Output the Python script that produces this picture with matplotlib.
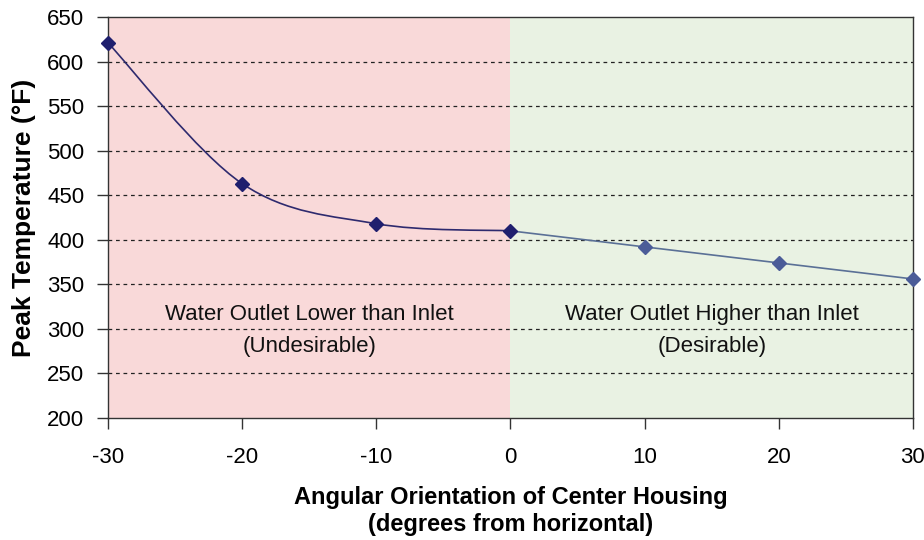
import numpy as np
import matplotlib
matplotlib.use('Agg')
import matplotlib.pyplot as plt
from matplotlib.path import Path
from matplotlib.patches import PathPatch

# Data
angle_lower = [-30, -20, -10, 0]
temp_lower = [621, 463, 418, 410]
angle_higher = [0, 10, 20, 30]
temp_higher = [410, 392, 374, 356]

x_ticks = [-30, -20, -10, 0, 10, 20, 30]
y_ticks = [200, 250, 300, 350, 400, 450, 500, 550, 600, 650]

plt.rcParams['font.family'] = ['Liberation Sans', 'DejaVu Sans']
plt.rcParams['axes.unicode_minus'] = False

fig = plt.figure(figsize=(9.24, 5.4), dpi=100)
ax = fig.add_axes([0.1169, 0.226, 0.8711, 0.7425])

# shaded regions
ax.axvspan(-30, 0, color='#f9d9d9', zorder=0, lw=0)
ax.axvspan(0, 30, color='#e9f2e3', zorder=0, lw=0)

# dashed grid
for y in y_ticks[1:-1]:
    ax.axhline(y, color='#222222', ls=(0, (3, 3)), lw=0.9, zorder=1)


def smooth_path(xs, ys):
    # Excel-style smoothed line: cubic bezier with Catmull-Rom tangents
    pts = np.column_stack([xs, ys]).astype(float)
    ext = np.vstack([pts[0], pts, pts[-1]])
    verts = [pts[0]]
    codes = [Path.MOVETO]
    for i in range(len(pts) - 1):
        p0, p1, p2, p3 = ext[i], ext[i + 1], ext[i + 2], ext[i + 3]
        verts += [p1 + (p2 - p0) / 6, p2 - (p3 - p1) / 6, p2]
        codes += [Path.CURVE4] * 3
    return Path(verts, codes)


ax.add_patch(PathPatch(smooth_path(angle_lower, temp_lower), fill=False,
                       ec='#2e2a6e', lw=1.2, zorder=3))
ax.plot(angle_lower, temp_lower, ls='none', marker='D', ms=7,
        color='#1f1f6e', zorder=4, clip_on=False)

ax.plot(angle_higher, temp_higher, color='#5a7096', lw=1.2, zorder=3)
ax.plot(angle_higher[1:], temp_higher[1:], ls='none', marker='D', ms=7,
        color='#4b5c98', zorder=4, clip_on=False)

txt = dict(ha='center', va='center', fontsize=16, color='#111111')
ax.text(-15, 316.5, 'Water Outlet Lower than Inlet', **txt)
ax.text(-15, 280, '(Undesirable)', **txt)
ax.text(15, 316.5, 'Water Outlet Higher than Inlet', **txt)
ax.text(15, 280, '(Desirable)', **txt)

ax.set_xlim(-30, 30)
ax.set_ylim(200, 650)
ax.set_xticks(x_ticks)
ax.set_yticks(y_ticks)
ax.tick_params(axis='both', direction='out', length=8, width=1,
               color='#333333', labelsize=16)
ax.tick_params(axis='x', pad=13)
ax.tick_params(axis='y', pad=9)
for s in ax.spines.values():
    s.set_color('#333333')
    s.set_linewidth(1)

ax.set_ylabel('Peak Temperature (°F)', fontsize=19, fontweight='bold')
ax.yaxis.set_label_coords(-0.1043, 0.5)
ax.yaxis.label.set_va('center')
ax.set_xlabel('Angular Orientation of Center Housing\n(degrees from horizontal)',
              fontsize=17, fontweight='bold', linespacing=1.25)
ax.xaxis.set_label_coords(0.5, -0.232)
ax.xaxis.label.set_va('center')

fig.savefig('out.png', dpi=100)
